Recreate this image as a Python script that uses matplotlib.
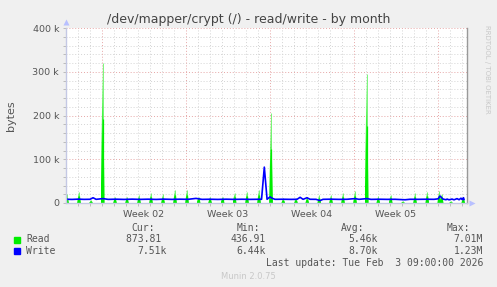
import matplotlib
matplotlib.use("Agg")
import matplotlib.pyplot as plt
from matplotlib.patches import Rectangle, Polygon
from matplotlib.colors import LinearSegmentedColormap
import numpy as np

# ---------------- data (days relative to Mon 2026-01-05 00:00) ----------------
read_spike_days = [-2.89, -1.89, -0.89, 0.08, 1.11, 2.11, 3.11, 4.11, 5.11, 6.11, 7.11,
                   8.07, 9.03, 10.07, 11.07, 12.11, 13.11, 14.11, 15.13, 16.19, 17.13,
                   18.13, 19.11, 20.11, 21.11, 22.08, 23.05, 24.08, 25.11, 26.11, 27.13,
                   28.13, 28.32, 29.11, 30.13]
read_spike_vals = [20, 26, 6, 320, 14, 14, 18, 22, 20, 30, 30,
                   14, 14, 14, 22, 26, 30, 205, 11, 11, 14,
                   18, 18, 22, 27, 295, 16, 18, 4, 22, 26,
                   28, 20, 4, 14]  # thousands of bytes

write_days = [-2.97, -2.47, -1.97, -1.47, -0.97, -0.72, -0.47, 0.11, 0.53, 1.19, 1.86,
              2.53, 3.19, 3.86, 4.53, 5.19, 5.86, 6.53, 7.19, 7.86, 8.36, 9.03, 9.69,
              10.36, 11.03, 11.69, 12.36, 13.03, 13.32, 13.55, 13.78, 14.03, 14.19,
              14.44, 15.11, 15.78, 16.28, 16.53, 16.78, 17.11, 17.36, 17.86, 18.19,
              18.44, 19.11, 19.78, 20.44, 21.11, 21.44, 22.11, 22.44, 23.11, 23.78,
              24.44, 25.28, 25.69, 26.36, 27.03, 27.69, 28.03, 28.19, 28.44, 28.69,
              28.78, 28.94, 29.19, 29.36, 29.61, 29.78, 29.94, 30.03, 30.15, 30.19]
write_vals = [8.6, 8.2, 8.8, 8.3, 8.5, 12.0, 8.4, 10.0, 8.3, 8.7, 8.2,
              8.8, 8.3, 8.7, 8.2, 8.8, 8.3, 8.7, 8.4, 10.5, 8.3, 8.6, 8.2,
              8.7, 8.3, 8.6, 8.3, 8.5, 8.5, 82.0, 8.5, 14.0, 11.0,
              8.4, 8.6, 8.3, 8.5, 13.0, 8.4, 12.0, 8.5, 8.4, 5.5,
              8.4, 8.7, 8.3, 8.5, 10.0, 8.4, 10.0, 8.3, 8.6, 8.3,
              8.5, 7.4, 8.5, 8.4, 8.6, 8.4, 9.5, 16.0, 9.0, 7.5,
              9.0, 7.3, 9.0, 7.3, 10.0, 7.5, 11.0, 7.8, 12.0, 8.0]

week_label_days = [3.5, 10.5, 17.5, 24.5]
week_labels = ["Week 02", "Week 03", "Week 04", "Week 05"]
week_bounds = [0, 7, 14, 21, 28]
ytick_vals = [0, 100, 200, 300, 400]
ytick_labels = ["0", "100 k", "200 k", "300 k", "400 k"]

legend_names = ["Read", "Write"]
legend_colors = ["#00ee00", "#0000ff"]
cur_vals = ["873.81 ", "7.51k"]
min_vals = ["436.91", "6.44k"]
avg_vals = ["5.46k", "8.70k"]
max_vals = ["7.01M", "1.23M"]

# ---------------- figure ----------------
W, H = 497, 287
fig = plt.figure(figsize=(W / 100, H / 100), dpi=100, facecolor="#f0f0f0")
L, R, T, B = 66, 467, 28, 203
ax = fig.add_axes([L / W, 1 - B / H, (R - L) / W, (B - T) / H])
ax.set_facecolor("white")
xmin, xmax = -2.975, 30.44

# grid
minor_c = "#d4d4d4"
major_c = "#e6a6a6"
ls = (0, (1, 2))
for v in range(20, 400, 20):
    if v % 100:
        ax.axhline(v, color=minor_c, lw=0.7, ls=ls, zorder=1)
for d in range(-2, 31):
    if d not in week_bounds:
        ax.axvline(d, color=minor_c, lw=0.7, ls=ls, zorder=1)
for v in ytick_vals[1:]:
    ax.axhline(v, color=major_c, lw=0.7, ls=ls, zorder=1.5)
for d in week_bounds:
    ax.axvline(d, color=major_c, lw=0.7, ls=ls, zorder=1.5)

# read series: narrow spikes with fading gradient
cmap = LinearSegmentedColormap.from_list(
    "fade", [(0, "#00ee00"), (0.4, "#00ee00"), (1, "#b4ffb4")])
grad = np.linspace(0, 1, 64).reshape(-1, 1)
hw = 0.16
for d, v in zip(read_spike_days, read_spike_vals):
    poly = Polygon([(d - hw, 0), (d, v), (d + hw, 0)], closed=True,
                   facecolor="none", edgecolor="none")
    ax.add_patch(poly)
    im = ax.imshow(grad, extent=(d - hw, d + hw, 0, v), origin="lower", cmap=cmap,
                   aspect="auto", zorder=2, interpolation="bilinear")
    im.set_clip_path(poly)
    ax.plot([d, d], [0, v], color="#66f566", lw=0.6, zorder=2.05,
            solid_capstyle="butt")
    ax.plot([d, d], [0, v * 0.6], color="#00ee00", lw=0.9, zorder=2.1,
            solid_capstyle="butt")
ax.set_xlim(xmin, xmax)
ax.set_ylim(0, 400)

# write series
ax.plot(write_days, write_vals, color=legend_colors[1], lw=1.2, zorder=3)

# spines
ax.spines["top"].set_visible(False)
ax.spines["left"].set_color("#c4c8e4")
ax.spines["bottom"].set_color("#c4c8e4")
ax.spines["right"].set_color("#999999")
for s in ax.spines.values():
    s.set_linewidth(1.0)
    s.set_zorder(5)

# arrows
ax.plot([0], [1.035], marker="^", ms=4, color="#b8c0ff", transform=ax.transAxes,
        clip_on=False, zorder=6, mec="none")
ax.plot([1.012], [0], marker=">", ms=4, color="#b8c0ff", transform=ax.transAxes,
        clip_on=False, zorder=6, mec="none")

# ticks
text_c = "#555555"
ax.set_yticks(ytick_vals)
ax.set_yticklabels(ytick_labels)
ax.set_yticks(range(0, 401, 20), minor=True)
ax.tick_params(axis="y", which="major", length=2, width=0.7, color="#bbbbbb",
               labelsize=6.8, labelcolor=text_c, pad=3)
ax.tick_params(axis="y", which="minor", length=2, width=0.7, color="#bbbbbb")
ax.set_xticks(week_label_days)
ax.set_xticklabels(week_labels)
ax.set_xticks(range(-2, 31), minor=True)
ax.tick_params(axis="x", which="major", length=0, labelsize=6.8, labelcolor=text_c, pad=5)
ax.tick_params(axis="x", which="minor", length=2, width=0.7, color="#bbbbbb")

# texts
def ftext(x, y, s, **kw):
    fig.text(x / W, 1 - y / H, s, **kw)

ftext(248.5, 19, "/dev/mapper/crypt (/) - read/write - by month", ha="center", va="center",
      fontsize=9, color="#444444")
ftext(11, 116, "bytes", rotation=90, ha="center", va="center", fontsize=8, color=text_c)
ftext(487, 25, "RRDTOOL / TOBI OETIKER", rotation=270, ha="center", va="top",
      fontsize=5, color="#c8c8c8")

mono = dict(family="DejaVu Sans Mono", fontsize=7, color=text_c, va="center")
ftext(143, 228, "Cur:", ha="center", **mono)
ftext(248, 228, "Min:", ha="center", **mono)
ftext(353, 228, "Avg:", ha="center", **mono)
ftext(458.5, 228, "Max:", ha="center", **mono)
rows_y = [239.5, 251.3]
for i, yy in enumerate(rows_y):
    fig.patches.append(Rectangle((14 / W, 1 - (yy + 3) / H), 6 / W, 6 / H,
                                 transform=fig.transFigure, color=legend_colors[i]))
    ftext(26, yy, legend_names[i], ha="left", **mono)
    ftext(167, yy, cur_vals[i], ha="right", **mono)
    ftext(266, yy, min_vals[i], ha="right", **mono)
    ftext(377.5, yy, avg_vals[i], ha="right", **mono)
    ftext(483, yy, max_vals[i], ha="right", **mono)
ftext(483, 263.3, "Last update: Tue Feb  3 09:00:00 2026", ha="right", **mono)
ftext(248, 276.7, "Munin 2.0.75", ha="center", va="center", fontsize=6, color="#c8c8c8")

fig.savefig("out.png", dpi=100, facecolor=fig.get_facecolor())
